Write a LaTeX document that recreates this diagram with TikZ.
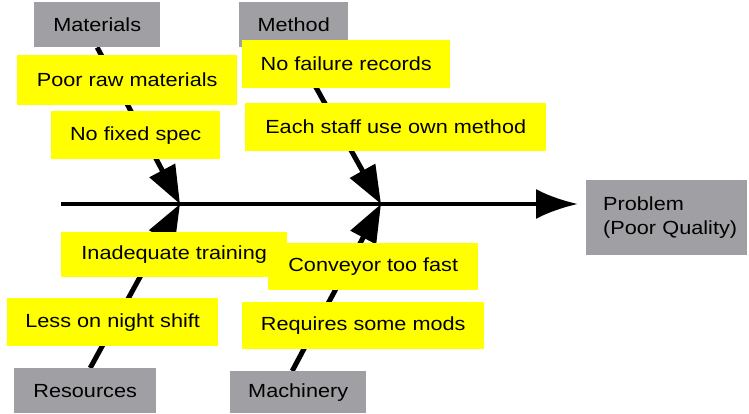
\documentclass[tikz,border=0pt]{standalone}
\usepackage{fontspec}
\setmainfont{Liberation Sans}[FakeStretch=1.14]
\usetikzlibrary{arrows.meta}
\pgfdeclarelayer{background}
\pgfsetlayers{background,main}
\definecolor{catgray}{HTML}{A0A0A4}
\definecolor{causeyellow}{HTML}{FFFF00}
\tikzset{
  box/.style={rectangle, inner sep=0pt, anchor=north west, text=black,
    font=\fontsize{19}{24}\selectfont},
  catbox/.style={box, fill=catgray},
  causebox/.style={box, fill=causeyellow},
  bone/.style={line width=5pt, -{Triangle[length=38pt,width=28pt]}},
  spine/.style={line width=4.5pt, -{Latex[length=42pt,width=30pt]}}
}
\begin{document}
\begin{tikzpicture}[x=1pt,y=-1pt]
\useasboundingbox (0,0) rectangle (749,413);

% category boxes
\node[catbox, minimum width=126pt, minimum height=45pt] (mat) at (34,2) {Materials};
\node[catbox, minimum width=109pt, minimum height=45pt] (met) at (239,2) {Method};
\node[catbox, minimum width=142pt, minimum height=45pt] (res) at (14,368) {Resources};
\node[catbox, minimum width=136pt, minimum height=42pt] (mach) at (230,371) {Machinery};

% causes
\node[causebox, minimum width=220pt, minimum height=50pt] (prm) at (17,55) {Poor raw materials};
\node[causebox, minimum width=169pt, minimum height=48pt] (nfs) at (51,111) {No fixed spec};
\node[causebox, minimum width=208pt, minimum height=48pt] (nfr) at (242,40) {No failure records};
\node[causebox, minimum width=301pt, minimum height=48pt] (esm) at (245,103) {Each staff use own method};
\node[causebox, minimum width=226pt, minimum height=45pt] (inad) at (61,232) {Inadequate training};
\node[causebox, minimum width=210pt, minimum height=47pt] (conv) at (268,243) {Conveyor too fast};
\node[causebox, minimum width=211pt, minimum height=48pt] (less) at (7,298) {Less on night shift};
\node[causebox, minimum width=242pt, minimum height=47pt] (req) at (242,302) {Requires some mods};

% effect
\node[catbox, text width=127pt, inner xsep=17pt, minimum height=75pt, align=left]
  (prob) at (586,180) {\mbox{Problem}\\\mbox{(Poor Quality)}};

% spine and joints
\coordinate (tail) at (61,204);
\coordinate (tip) at (578,204);
\coordinate (j1) at (180,204);
\coordinate (j2) at (381,204);

\begin{pgfonlayer}{background}
  \draw[spine] (tail) -- (tip);
  \draw[bone] (mat.south) -- (j1);
  \draw[bone] (met.south) -- (j2);
  \draw[bone] ([xshift=5pt]res.north) -- (j1);
  \draw[bone] ([xshift=-6pt]mach.north) -- (j2);
\end{pgfonlayer}
\end{tikzpicture}
\end{document}
